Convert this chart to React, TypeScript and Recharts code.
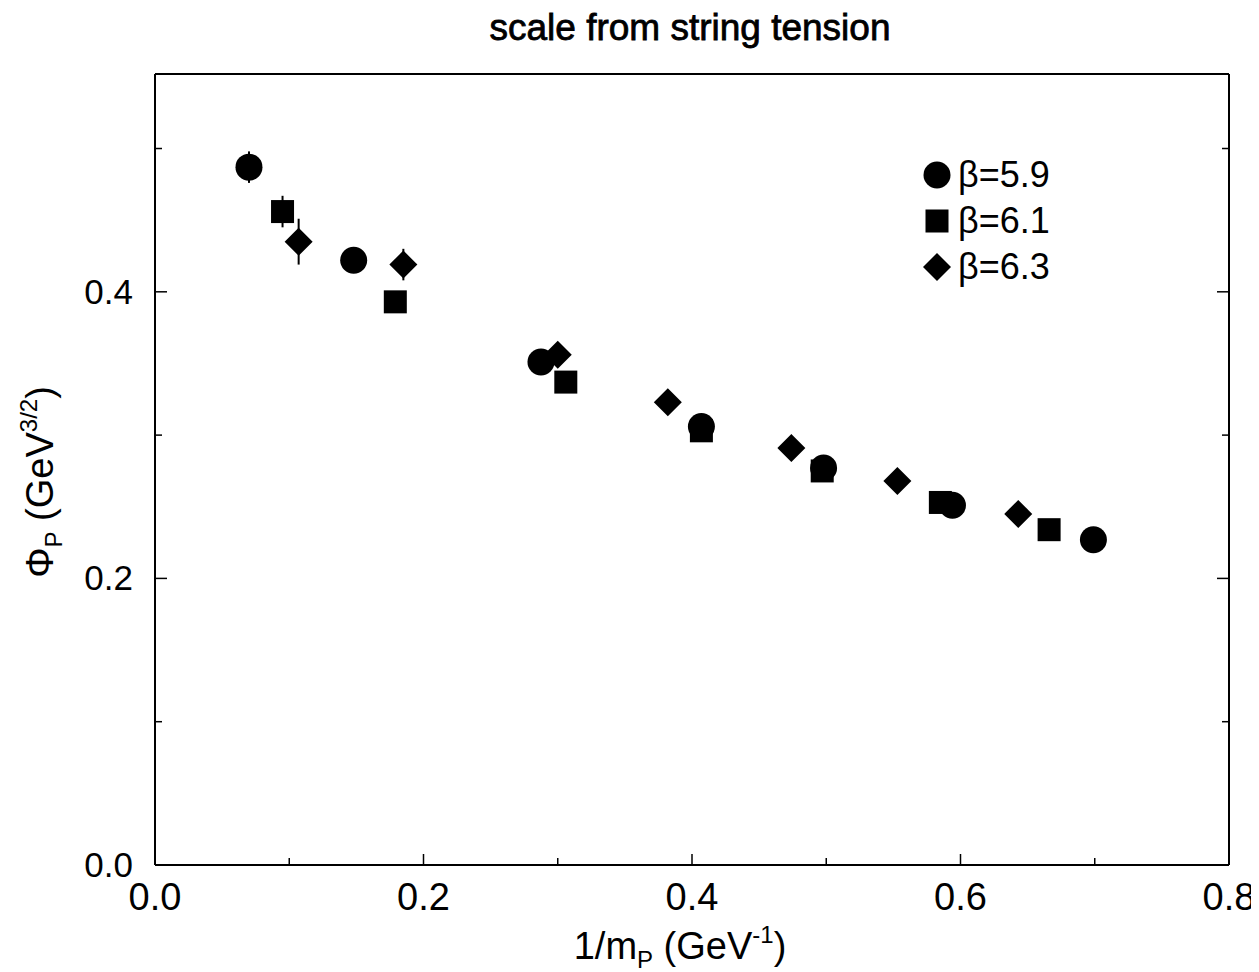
import React from "react";
import {
  ScatterChart,
  Scatter,
  XAxis,
  YAxis,
  ErrorBar,
  Legend,
  Label
} from "recharts";

// beta = 5.9
const x59 = [0.070, 0.148, 0.2875, 0.407, 0.498, 0.594, 0.699];
const y59 = [0.487, 0.422, 0.351, 0.306, 0.277, 0.251, 0.227];
const e59 = [0.011, 0, 0, 0, 0, 0, 0];

// beta = 6.1
const x61 = [0.095, 0.179, 0.306, 0.407, 0.497, 0.585, 0.666];
const y61 = [0.456, 0.393, 0.337, 0.303, 0.275, 0.253, 0.234];
const e61 = [0.011, 0.004, 0, 0, 0, 0, 0];

// beta = 6.3
const x63 = [0.107, 0.185, 0.300, 0.382, 0.474, 0.553, 0.643];
const y63 = [0.435, 0.419, 0.356, 0.323, 0.291, 0.268, 0.245];
const e63 = [0.016, 0.011, 0, 0, 0, 0, 0];

const xTicks = [0, 0.1, 0.2, 0.3, 0.4, 0.5, 0.6, 0.7, 0.8];
const yTicks = [0, 0.1, 0.2, 0.3, 0.4, 0.5];

const seriesNames = ["β=5.9", "β=6.1", "β=6.3"];

const FONT = "'Liberation Sans', Arial, Helvetica, sans-serif";

const toPoints = (xs: number[], ys: number[], es: number[]) =>
  xs.map((x, i) => ({ x, y: ys[i], err: es[i] }));

const isMajor = (v: number) => Math.round(v * 10) % 2 === 0;

// markers
const Dot = (p: any) => <circle cx={p.cx} cy={p.cy} r={13.5} fill="#000" />;
const Sq = (p: any) => (
  <rect x={p.cx - 11.5} y={p.cy - 11.5} width={23} height={23} fill="#000" />
);
const Dia = (p: any) => (
  <polygon
    points={`${p.cx},${p.cy - 14} ${p.cx + 14},${p.cy} ${p.cx},${p.cy + 14} ${p.cx - 14},${p.cy}`}
    fill="#000"
  />
);

const icons = [
  <circle cx={15} cy={15} r={13.5} fill="#000" />,
  <rect x={3.5} y={3.5} width={23} height={23} fill="#000" />,
  <polygon points="15,1 29,15 15,29 1,15" fill="#000" />
];

// ticks: lines drawn inside the frame, labels outside
const BottomTick = ({ x, y, payload }: any) => {
  const major = isMajor(payload.value);
  return (
    <g>
      <line x1={x} y1={y} x2={x} y2={y - (major ? 11 : 7)} stroke="#000" strokeWidth={1.5} />
      {major && (
        <text x={x} y={y + 45} textAnchor="middle" fontSize={38} fontFamily={FONT} fill="#000">
          {payload.value.toFixed(1)}
        </text>
      )}
    </g>
  );
};

const TopTick = ({ x, y, payload }: any) => (
  <line x1={x} y1={y} x2={x} y2={y + (isMajor(payload.value) ? 11 : 7)} stroke="#000" strokeWidth={1.5} />
);

const LeftTick = ({ x, y, payload }: any) => {
  const major = isMajor(payload.value);
  return (
    <g>
      <line x1={x} y1={y} x2={x + (major ? 12 : 7)} y2={y} stroke="#000" strokeWidth={1.5} />
      {major && (
        <text x={x - 22} y={y + 12} textAnchor="end" fontSize={35} fontFamily={FONT} fill="#000">
          {payload.value.toFixed(1)}
        </text>
      )}
    </g>
  );
};

const RightTick = ({ x, y, payload }: any) => (
  <line x1={x} y1={y} x2={x - (isMajor(payload.value) ? 12 : 7)} y2={y} stroke="#000" strokeWidth={1.5} />
);

const renderLegend = () => (
  <div style={{ fontFamily: FONT, fontSize: 36, color: "#000", lineHeight: "46px" }}>
    {seriesNames.map((name, i) => (
      <div key={name} style={{ display: "flex", alignItems: "center", height: 46 }}>
        <svg width={30} height={30} style={{ marginRight: 6 }}>
          {icons[i]}
        </svg>
        <span>{name}</span>
      </div>
    ))}
  </div>
);

export default function App() {
  return (
    <ScatterChart
      width={1251}
      height={964}
      margin={{ top: 56, right: 20, bottom: 57, left: 87 }}
      style={{ background: "#fff", overflow: "visible" }}
    >
      <XAxis
        type="number"
        dataKey="x"
        domain={[0, 0.8]}
        ticks={xTicks}
        allowDataOverflow
        height={50}
        tickSize={0}
        tickMargin={0}
        tick={<BottomTick />}
        axisLine={{ stroke: "#000", strokeWidth: 2 }}
        tickLine={false}
      >
        <Label
          content={() => (
            <text x={672} y={951} textAnchor="middle" fontSize={38} fontFamily={FONT} fill="#000">
              <tspan>1/m</tspan>
              <tspan fontSize={24} dy={9}>P</tspan>
              <tspan dy={-9}> (GeV</tspan>
              <tspan fontSize={24} dy={-16}>-1</tspan>
              <tspan dy={16}>)</tspan>
            </text>
          )}
        />
      </XAxis>
      <XAxis
        xAxisId="top"
        orientation="top"
        type="number"
        domain={[0, 0.8]}
        ticks={xTicks}
        allowDataOverflow
        height={10}
        tickSize={0}
        tickMargin={0}
        tick={<TopTick />}
        axisLine={{ stroke: "#000", strokeWidth: 2 }}
        tickLine={false}
      >
        <Label
          content={() => (
            <text
              x={682}
              y={32}
              textAnchor="middle"
              fontSize={37}
              fontFamily={FONT}
              fill="#000"
              stroke="#000"
              strokeWidth={0.8}
            >
              scale from string tension
            </text>
          )}
        />
      </XAxis>
      <YAxis
        type="number"
        dataKey="y"
        domain={[0, 0.552]}
        ticks={yTicks}
        allowDataOverflow
        width={60}
        tickSize={0}
        tickMargin={0}
        tick={<LeftTick />}
        axisLine={{ stroke: "#000", strokeWidth: 2 }}
        tickLine={false}
      >
        <Label
          content={() => (
            <text
              x={45}
              y={474}
              transform="rotate(-90, 45, 474)"
              textAnchor="middle"
              fontSize={38}
              fontFamily={FONT}
              fill="#000"
            >
              <tspan>Φ</tspan>
              <tspan fontSize={24} dy={9}>P</tspan>
              <tspan dy={-9}> (GeV</tspan>
              <tspan fontSize={24} dy={-16}>3/2</tspan>
              <tspan dy={16}>)</tspan>
            </text>
          )}
        />
      </YAxis>
      <YAxis
        yAxisId="right"
        orientation="right"
        type="number"
        domain={[0, 0.552]}
        ticks={yTicks}
        allowDataOverflow
        width={10}
        tickSize={0}
        tickMargin={0}
        tick={<RightTick />}
        axisLine={{ stroke: "#000", strokeWidth: 2 }}
        tickLine={false}
      />
      <Legend
        layout="horizontal"
        verticalAlign="middle"
        content={renderLegend}
        wrapperStyle={{ position: "absolute", left: 914, top: 144, width: 200 }}
      />
      <Scatter name={seriesNames[0]} data={toPoints(x59, y59, e59)} shape={Dot} isAnimationActive={false}>
        <ErrorBar dataKey="err" direction="y" width={0} stroke="#000" strokeWidth={2} />
      </Scatter>
      <Scatter name={seriesNames[1]} data={toPoints(x61, y61, e61)} shape={Sq} isAnimationActive={false}>
        <ErrorBar dataKey="err" direction="y" width={0} stroke="#000" strokeWidth={2} />
      </Scatter>
      <Scatter name={seriesNames[2]} data={toPoints(x63, y63, e63)} shape={Dia} isAnimationActive={false}>
        <ErrorBar dataKey="err" direction="y" width={0} stroke="#000" strokeWidth={2} />
      </Scatter>
    </ScatterChart>
  );
}
